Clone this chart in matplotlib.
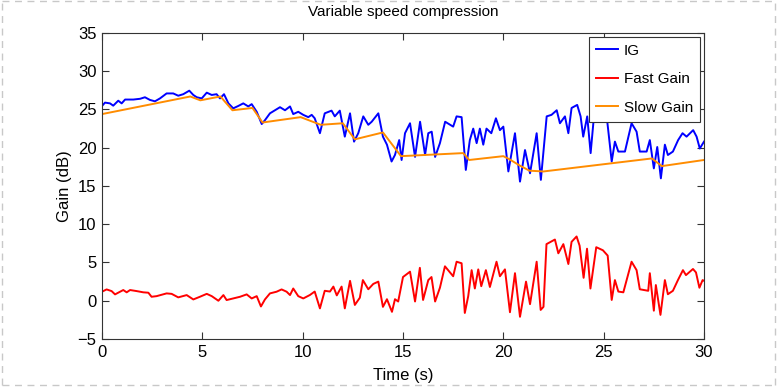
import numpy as np
import matplotlib
matplotlib.use("Agg")
import matplotlib.pyplot as plt
from matplotlib.lines import Line2D

plt.rcParams["font.family"] = ["Liberation Sans", "DejaVu Sans"]

# IG (blue)
ig_t = [0, 0.15, 0.4, 0.56, 0.81, 0.98, 1.15, 1.56, 1.9, 2.14, 2.39, 2.64, 2.89, 3.22, 3.55, 3.8,
        4.05, 4.35, 4.55, 4.72, 4.97, 5.22, 5.47, 5.71, 5.88, 6.08, 6.3, 6.54, 6.79, 7.04, 7.29,
        7.46, 7.71, 7.96, 8.12, 8.37, 8.62, 8.87, 9.12, 9.37, 9.53, 9.78, 10.03, 10.28, 10.45,
        10.6, 10.86, 11.1, 11.44, 11.6, 11.85, 12.1, 12.36, 12.56, 12.77, 13.02, 13.27, 13.44,
        13.77, 14.0, 14.2, 14.43, 14.6, 14.81, 14.93, 15.1, 15.35, 15.6, 15.85, 16.1, 16.26,
        16.43, 16.6, 16.84, 17.1, 17.5, 17.67, 17.92, 18.13, 18.33, 18.5, 18.67, 18.83, 19.0,
        19.16, 19.4, 19.63, 19.83, 20.0, 20.25, 20.58, 20.83, 21.08, 21.33, 21.66, 21.87, 22.16,
        22.4, 22.66, 22.82, 23.07, 23.24, 23.4, 23.68, 23.85, 23.98, 24.18, 24.35, 24.56, 24.81,
        25.15, 25.4, 25.56, 25.73, 26.06, 26.39, 26.64, 26.8, 27.14, 27.3, 27.5, 27.67, 27.85,
        28.05, 28.2, 28.45, 28.71, 28.93, 29.13, 29.46, 29.63, 29.79, 30.0]
ig_v = [25.46, 25.9, 25.8, 25.5, 26.15, 25.8, 26.3, 26.3, 26.4, 26.6, 26.25, 26.07, 26.45, 27.1,
        27.1, 26.8, 27.0, 27.46, 26.9, 26.6, 26.45, 27.2, 26.9, 27.0, 26.45, 27.0, 25.8, 25.15,
        25.46, 25.8, 25.4, 25.7, 24.7, 23.1, 23.6, 24.5, 24.9, 25.3, 24.9, 25.4, 24.4, 24.7, 24.3,
        24.0, 24.3, 23.85, 21.9, 24.5, 24.85, 24.1, 24.85, 21.45, 24.5, 20.8, 21.9, 24.1, 23.0,
        23.4, 24.5, 21.45, 20.4, 18.2, 19.06, 21.0, 18.4, 21.9, 23.2, 18.8, 23.4, 19.06, 21.9,
        22.1, 18.8, 20.6, 23.4, 22.76, 24.1, 24.0, 17.1, 21.0, 22.5, 20.6, 22.5, 20.4, 22.5, 21.9,
        23.85, 22.3, 22.76, 16.9, 21.9, 15.57, 19.7, 16.66, 21.9, 15.8, 24.1, 24.3, 24.9, 23.2,
        24.1, 21.9, 25.2, 25.6, 24.1, 21.45, 24.1, 19.3, 25.4, 24.5, 24.1, 18.2, 20.8, 19.5, 19.5,
        23.2, 22.1, 19.5, 19.5, 21.0, 17.3, 20.1, 16.0, 20.4, 19.05, 19.5, 21.0, 21.9, 21.45,
        22.3, 21.45, 19.9, 20.8]

# Fast Gain (red)
fast_t = [0, 0.23, 0.48, 0.65, 0.9, 1.06, 1.23, 1.4, 1.73, 2.06, 2.31, 2.47, 2.72, 3.22, 3.47,
          3.8, 4.22, 4.55, 4.88, 5.22, 5.47, 5.8, 6.05, 6.21, 6.54, 6.88, 7.21, 7.46, 7.71, 7.92,
          8.12, 8.37, 8.7, 8.95, 9.2, 9.37, 9.53, 9.78, 10.03, 10.36, 10.6, 10.86, 11.1, 11.36,
          11.53, 11.7, 11.94, 12.1, 12.36, 12.6, 12.85, 13.0, 13.27, 13.52, 13.77, 14.0, 14.2,
          14.45, 14.6, 14.76, 15.0, 15.35, 15.6, 15.84, 16.0, 16.26, 16.42, 16.6, 16.84, 17.09,
          17.5, 17.67, 17.92, 18.08, 18.25, 18.42, 18.58, 18.75, 18.9, 19.13, 19.33, 19.66, 19.83,
          20.08, 20.33, 20.58, 20.83, 21.13, 21.33, 21.66, 21.86, 22.0, 22.15, 22.57, 22.74, 22.99,
          23.24, 23.4, 23.65, 23.8, 24.0, 24.17, 24.34, 24.63, 24.96, 25.2, 25.4, 25.56, 25.73,
          25.98, 26.39, 26.64, 26.8, 27.22, 27.3, 27.5, 27.6, 27.83, 28.05, 28.2, 28.45, 28.7,
          28.95, 29.1, 29.45, 29.6, 29.77, 29.93, 30.0]
fast_v = [1.18, 1.48, 1.26, 0.83, 1.18, 1.4, 1.1, 1.4, 1.26, 1.1, 1.05, 0.52, 0.6, 0.96, 0.9,
          0.44, 0.74, 0.17, 0.52, 0.9, 0.6, 0.0, 0.74, 0.09, 0.3, 0.52, 0.83, 0.3, 0.6, -0.75,
          0.17, 0.96, 1.18, 1.48, 1.18, 0.74, 1.6, 0.6, 0.3, 0.75, 1.2, -1.0, 1.3, 1.2, 1.85,
          0.7, 1.85, -1.0, 2.6, -0.55, 0.4, 2.7, 1.5, 2.2, 2.5, -0.8, 0.2, -1.45, 0.2, -0.1, 3.1,
          3.8, -0.1, 4.3, 0.1, 2.7, 3.1, -0.1, 1.7, 4.5, 3.2, 5.1, 4.9, -1.6, 0.6, 4.0, 1.6, 4.1,
          1.9, 4.0, 1.8, 5.1, 3.2, 4.1, -1.5, 3.6, -2.1, 2.5, -0.45, 5.1, -1.2, -0.8, 7.4, 8.0,
          6.2, 7.4, 4.8, 7.7, 8.4, 7.2, 3.0, 6.8, 1.6, 7.0, 6.6, 5.9, 0.1, 2.7, 1.2, 1.1, 5.1,
          4.0, 1.5, 1.3, 3.6, -1.3, 2.05, -1.85, 2.7, 0.85, 1.3, 2.7, 4.0, 3.35, 4.15, 3.7, 1.7,
          2.7, 2.6]

# Slow Gain (orange)
slow_t = [0, 4.4, 4.9, 5.9, 6.5, 7.5, 8.0, 9.9, 10.9, 12.0, 12.6, 14.0, 14.9, 18.0, 18.3,
          20.0, 20.3, 20.8, 21.3, 22.0, 27.4, 27.9, 30.0]
slow_v = [24.4, 26.7, 26.2, 26.7, 24.9, 25.2, 23.3, 24.0, 23.0, 23.2, 21.1, 22.0, 18.9, 19.3,
          18.4, 18.9, 18.5, 17.7, 17.0, 16.9, 18.6, 17.6, 18.4]

fig = plt.figure(figsize=(7.78, 3.9), dpi=100)
ax = fig.add_axes([0.1311, 0.1308, 0.7738, 0.7846])

ax.plot(ig_t, ig_v, color="#0000ff", lw=1.4, label="IG")
ax.plot(fast_t, fast_v, color="#ff0000", lw=1.4, label="Fast Gain")
ax.plot(slow_t, slow_v, color="#ff8c00", lw=1.4, label="Slow Gain")

ax.set_xlim(0, 30)
ax.set_ylim(-5, 35)
ax.set_xticks(np.arange(0, 31, 5))
ax.set_yticks(np.arange(-5, 36, 5))
ax.tick_params(direction="in", length=5, top=True, right=True, labelsize=12,
               color="#333333", pad=4)
for s in ax.spines.values():
    s.set_color("#333333")
    s.set_linewidth(0.8)

ax.set_title("Variable speed compression", fontsize=11, pad=12)
ax.set_xlabel("Time (s)", fontsize=12, labelpad=6)
ax.set_ylabel("Gain (dB)", fontsize=12, labelpad=4)

leg = ax.legend(loc="upper right", fontsize=11, frameon=True, fancybox=False,
                edgecolor="#333333", framealpha=1, handlelength=1.45, borderaxespad=0.25,
                labelspacing=0.95, handletextpad=0.4, borderpad=0.45)
leg.get_frame().set_linewidth(0.8)

# dashed border around the image
kw = dict(color="#c8c8c8", lw=1, ls=(0, (5, 4)), transform=fig.transFigure)
fig.add_artist(Line2D([0.002, 0.996], [0.997, 0.997], **kw))
fig.add_artist(Line2D([0.002, 0.996], [0.013, 0.013], **kw))
fig.add_artist(Line2D([0.002, 0.002], [0.013, 0.997], **kw))
fig.add_artist(Line2D([0.996, 0.996], [0.013, 0.997], **kw))

fig.savefig("out.png", dpi=100)
